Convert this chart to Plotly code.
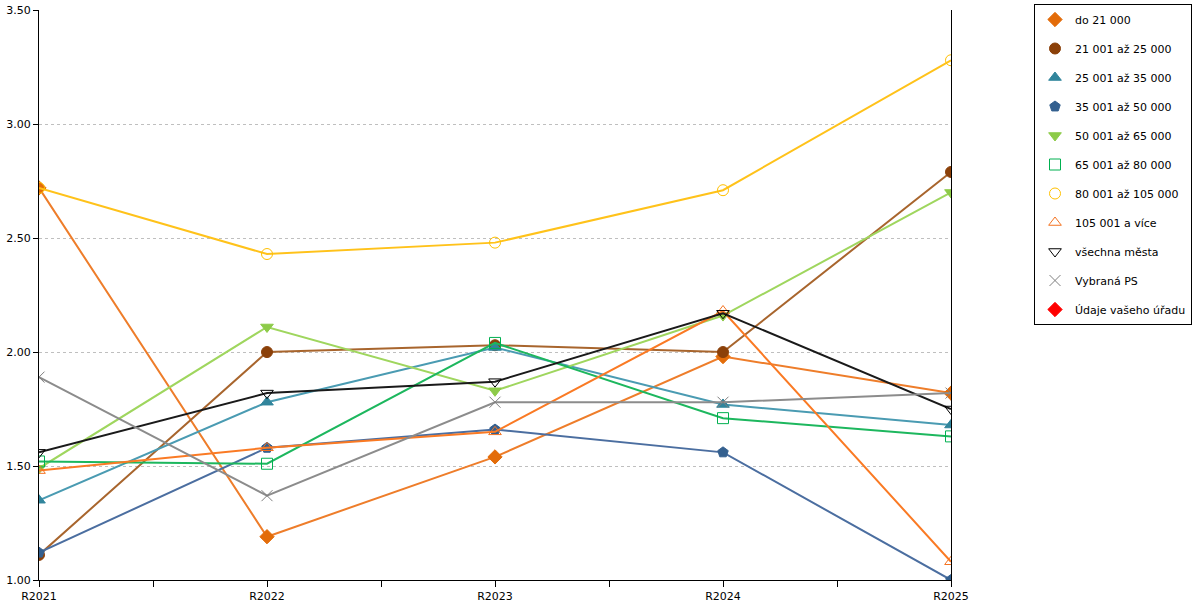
import plotly.graph_objects as go

# years on the x axis
years = ['R2021', 'R2022', 'R2023', 'R2024', 'R2025']

# values per size group
do_21000 = [2.72, 1.19, 1.54, 1.98, 1.82]
od_21001 = [1.11, 2.00, 2.03, 2.00, 2.79]
od_25001 = [1.35, 1.78, 2.02, 1.77, 1.68]
od_35001 = [1.12, 1.58, 1.66, 1.56, 1.00]
od_50001 = [1.49, 2.11, 1.83, 2.16, 2.70]
od_65001 = [1.52, 1.51, 2.04, 1.71, 1.63]
od_80001 = [2.72, 2.43, 2.48, 2.71, 3.28]
od_105001 = [1.48, 1.58, 1.65, 2.18, 1.08]
vsechna = [1.56, 1.82, 1.87, 2.17, 1.75]
vybrana_ps = [1.89, 1.37, 1.78, 1.78, 1.82]
vas_urad = [None, None, None, None, None]

names = ['do 21 000', '21 001 až 25 000', '25 001 až 35 000', '35 001 až 50 000',
         '50 001 až 65 000', '65 001 až 80 000', '80 001 až 105 000', '105 001 a více',
         'všechna města', 'Vybraná PS', 'Údaje vašeho úřadu']
series = [do_21000, od_21001, od_25001, od_35001, od_50001, od_65001,
          od_80001, od_105001, vsechna, vybrana_ps, vas_urad]

# (line colour, marker colour, symbol)
styles = [
    ('#EE7D2A', '#E36C09', 'diamond'),
    ('#A8652D', '#8B4009', 'circle'),
    ('#4A9BB2', '#31859C', 'triangle-up'),
    ('#4B6EA0', '#34608F', 'pentagon'),
    ('#9FD65E', '#8DCB48', 'triangle-down'),
    ('#1DB75E', '#00B050', 'square-open'),
    ('#FFC21A', '#FFC000', 'circle-open'),
    ('#FA7A24', '#F47321', 'triangle-up-open'),
    ('#1A1A1A', '#000000', 'triangle-down-open'),
    ('#8C8C8C', '#7F7F7F', 'x-thin-open'),
    ('#FF0000', '#FF0000', 'diamond'),
]

xs = list(range(len(years)))

fig = go.Figure()
for i, (name, vals) in enumerate(zip(names, series)):
    lc, mc, sym = styles[i]
    # line without legend entry
    fig.add_trace(go.Scatter(
        x=xs, y=vals, mode='lines', name=name,
        line=dict(color=lc, width=2),
        legendgroup=name, showlegend=False, hoverinfo='skip'
    ))
    # markers carry the legend entry
    fig.add_trace(go.Scatter(
        x=xs, y=vals, mode='markers', name=name,
        marker=dict(symbol=sym, size=11, color=mc,
                    line=dict(color=mc, width=1)),
        legendgroup=name
    ))

ticks = [i * 0.5 for i in range(2 * len(years) - 1)]
tick_text = [years[int(t)] if t == int(t) else '' for t in ticks]

fig.update_layout(
    width=1200, height=600,
    margin=dict(l=39, r=249, t=10, b=20),
    plot_bgcolor='white', paper_bgcolor='white',
    font=dict(family='DejaVu Sans', size=11, color='#000000'),
    showlegend=True,
    legend=dict(
        xref='container', yref='container',
        x=1034 / 1200, xanchor='left', y=1 - 4 / 600, yanchor='top',
        bordercolor='#000000', borderwidth=1,
        font=dict(size=11), tracegroupgap=10,
        itemwidth=30, maxheight=500
    ),
    xaxis=dict(
        range=[0, 4], tickvals=ticks, ticktext=tick_text,
        showline=True, linecolor='#000000', linewidth=1,
        ticks='outside', ticklen=6, tickcolor='#000000',
        showgrid=False, zeroline=False, automargin=False
    ),
    yaxis=dict(
        range=[1, 3.5005], dtick=0.5, tickformat='.2f',
        showline=True, linecolor='#000000', linewidth=1, mirror=True,
        ticks='outside', ticklen=5, tickcolor='#000000',
        showgrid=True, gridcolor='#BFBFBF', griddash='3px,3px', gridwidth=1,
        zeroline=False, automargin=False, ticklabeloverflow='allow'
    ),
)

# drop the default body margin so the figure sits at the page corner
fig.write_html('out.html', config={'displayModeBar': False},
               post_script="document.body.style.margin='0';")
